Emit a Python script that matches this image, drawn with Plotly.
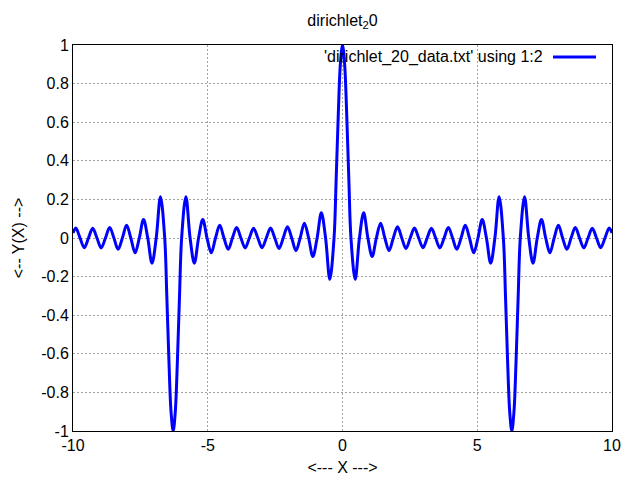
import plotly.graph_objects as go

x_vals = [
    -10.0, -9.896, -9.739, -9.582, -9.425, -9.268, -9.111, -8.954, -8.796, -8.639,
    -8.482, -8.325, -8.168, -8.011, -7.854, -7.697, -7.540, -7.383, -7.226, -7.069,
    -6.912, -6.754, -6.597, -6.519, -6.440, -6.362, -6.283, -6.205, -6.126, -6.048,
    -5.969, -5.812, -5.655, -5.498, -5.341, -5.184, -5.027, -4.869, -4.712, -4.555,
    -4.398, -4.241, -4.084, -3.927, -3.770, -3.613, -3.456, -3.299, -3.142, -2.985,
    -2.827, -2.670, -2.513, -2.356, -2.199, -2.042, -1.885, -1.728, -1.571, -1.414,
    -1.257, -1.100, -0.942, -0.785, -0.628, -0.471, -0.314, -0.236, -0.157, -0.079,
    0.0,
    0.079, 0.157, 0.236, 0.314, 0.471, 0.628, 0.785, 0.942, 1.100, 1.257,
    1.414, 1.571, 1.728, 1.885, 2.042, 2.199, 2.356, 2.513, 2.670, 2.827,
    2.985, 3.142, 3.299, 3.456, 3.613, 3.770, 3.927, 4.084, 4.241, 4.398,
    4.555, 4.712, 4.869, 5.027, 5.184, 5.341, 5.498, 5.655, 5.812, 5.969,
    6.048, 6.126, 6.205, 6.283, 6.362, 6.440, 6.519, 6.597, 6.754, 6.912,
    7.069, 7.226, 7.383, 7.540, 7.697, 7.854, 8.011, 8.168, 8.325, 8.482,
    8.639, 8.796, 8.954, 9.111, 9.268, 9.425, 9.582, 9.739, 9.896, 10.0,
]

y_vals = [
    0.026, 0.0514, 0, -0.0502, 0, 0.0502, 0, -0.0514, 0, 0.0541,
    0, -0.0586, 0, 0.0658, 0, -0.0770, 0, 0.0957, 0, -0.1307,
    0, 0.2142, 0, -0.3008, -0.6373, -0.9005, -1.0, -0.9005, -0.6373, -0.3008,
    0, 0.2142, 0, -0.1307, 0, 0.0957, 0, -0.0770, 0, 0.0658,
    0, -0.0586, 0, 0.0541, 0, -0.0514, 0, 0.0502, 0, -0.0502,
    0, 0.0514, 0, -0.0541, 0, 0.0586, 0, -0.0658, 0, 0.0770,
    0, -0.0957, 0, 0.1307, 0, -0.2142, 0, 0.3008, 0.6373, 0.9005,
    1.0,
    0.9005, 0.6373, 0.3008, 0, -0.2142, 0, 0.1307, 0, -0.0957, 0,
    0.0770, 0, -0.0658, 0, 0.0586, 0, -0.0541, 0, 0.0514, 0,
    -0.0502, 0, 0.0502, 0, -0.0514, 0, 0.0541, 0, -0.0586, 0,
    0.0658, 0, -0.0770, 0, 0.0957, 0, -0.1307, 0, 0.2142, 0,
    -0.3008, -0.6373, -0.9005, -1.0, -0.9005, -0.6373, -0.3008, 0, 0.2142, 0,
    -0.1307, 0, 0.0957, 0, -0.0770, 0, 0.0658, 0, -0.0586, 0,
    0.0541, 0, -0.0514, 0, 0.0502, 0, -0.0502, 0, 0.0514, 0.026,
]

x_ticks = [-10, -5, 0, 5, 10]
y_ticks = [-1, -0.8, -0.6, -0.4, -0.2, 0, 0.2, 0.4, 0.6, 0.8, 1]
y_tick_text = ["-1", "-0.8", "-0.6", "-0.4", "-0.2", "0", "0.2", "0.4", "0.6", "0.8", "1"]

legend_label = "'dirichlet_20_data.txt' using 1:2"

FONT = "Liberation Sans, Arial, sans-serif"
FS = 16

L, R, T, B = 73, 612, 45, 431
W, H = 640, 480

fig = go.Figure()
fig.add_trace(go.Scatter(
    x=x_vals, y=y_vals, mode="lines",
    line=dict(color="#0000ff", width=3, shape="spline", smoothing=1.0),
    showlegend=False, hoverinfo="skip",
))

axis_common = dict(
    showline=True, linecolor="black", linewidth=1, mirror=True,
    showgrid=True, gridcolor="#a0a0a0", griddash="2px,2px", gridwidth=1,
    zeroline=False, ticks="", automargin=False,
    tickfont=dict(family=FONT, size=FS, color="black"),
)

leg_y = 1 - (57 - T) / (B - T)

fig.update_layout(
    width=W, height=H,
    margin=dict(l=L, r=W - R, t=T, b=H - B, autoexpand=False),
    paper_bgcolor="white", plot_bgcolor="white",
    font=dict(family=FONT, size=FS, color="black"),
    title=dict(text="dirichlet<sub>2</sub>0", x=(L + R) / 2 / W, xanchor="center",
               y=1 - 20 / H, yanchor="middle", font=dict(family=FONT, size=FS)),
    xaxis=dict(range=[-10, 10], tickvals=x_ticks, ticktext=[str(v) for v in x_ticks],
               title=dict(text="<--- X --->", standoff=8, font=dict(family=FONT, size=FS)),
               **axis_common),
    yaxis=dict(range=[-1, 1], tickvals=y_ticks, ticktext=y_tick_text,
               title=dict(text="<-- Y(X) -->", standoff=12, font=dict(family=FONT, size=FS)),
               **axis_common),
    annotations=[dict(
        text=legend_label, xref="paper", yref="paper",
        x=(545 - L) / (R - L), y=leg_y,
        xanchor="right", yanchor="middle", showarrow=False,
        font=dict(family=FONT, size=FS, color="black"),
    )],
    shapes=[dict(
        type="line", xref="paper", yref="paper",
        x0=(553 - L) / (R - L), x1=(596 - L) / (R - L),
        y0=leg_y, y1=leg_y,
        line=dict(color="#0000ff", width=3),
    )],
)

fig.write_html("out.html", config={"displayModeBar": False},
               post_script="document.body.style.margin='0px';")
